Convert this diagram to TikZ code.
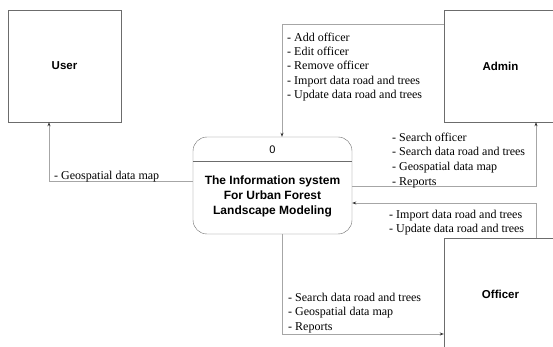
\documentclass[tikz,border=0pt]{standalone}
\usepackage{fontspec}
\setmainfont{Liberation Serif}
\setsansfont{Liberation Sans}
\usetikzlibrary{arrows.meta,calc}
\begin{document}
\begin{tikzpicture}[x=1pt, y=-1pt, every node/.style={font=\small},
  entity/.style={draw=gray!85!black, thin, minimum width=113pt, minimum height=112pt, font=\sffamily\bfseries\fontsize{11.5}{13}\selectfont},
  proc/.style={draw=gray!85!black, thin, rounded corners=14pt, minimum width=159pt, minimum height=97pt},
  flow/.style={draw=gray!70, line width=1pt, -{Stealth[length=4pt, width=3pt, color=black!80]}},
  lbl/.style={align=left, inner sep=0pt, font=\fontsize{12}{14.3}\selectfont}]
\useasboundingbox (0,0) rectangle (553,347);
\clip (0,0) rectangle (553,347);
% external entities
\node[entity] (user) at (64.5,66) {User};
\node[entity] (admin) at (500.5,66) {Admin};
\node[entity] (officer) at (500.5,294) {Officer};
% process 0
\node[proc] (proc) at (272.5,185.5) {};
\draw[draw=gray!85!black, thin] ($(proc.north west)+(0,24)$) -- ($(proc.north east)+(0,24)$);
\node[font=\sffamily\fontsize{11}{12}\selectfont] (pnum) at ($(proc.north)+(0,12.5)$) {0};
\node[align=center, font=\sffamily\bfseries\fontsize{12}{15}\selectfont] (ptitle) at ($(proc.north)+(0,60)$)
  {The Information system\\For Urban Forest\\Landscape Modeling};
% data flows
\draw[flow] ([yshift=3.5pt]proc.west) -| ([xshift=-15.5pt]user.south);
\draw[flow] ([yshift=41pt]admin.west) -| ([xshift=9.5pt]proc.north);
\draw[flow] ([yshift=-1.5pt]proc.east) -| ([xshift=35.5pt]admin.south);
\draw[flow] ([xshift=35.5pt]officer.north) |- ([yshift=-17.5pt]proc.east);
\draw[flow] ([xshift=9.5pt]proc.south) |- ([yshift=-40pt]officer.west);
% flow labels
\node[lbl, anchor=base west] (lgeo) at (54,179) {- Geospatial data map};
\node[lbl, anchor=north west] (ladmin) at (287,32.5) {- Add officer\\- Edit officer\\- Remove officer\\- Import data road and trees\\- Update data road and trees};
\node[lbl, anchor=north west, font=\fontsize{12}{14.8}\selectfont] (lreport) at (392,132.5) {- Search officer\\- Search data road and trees\\- Geospatial data map\\- Reports};
\node[lbl, anchor=north west] (limport) at (389,210) {- Import data road and trees\\- Update data road and trees};
\node[lbl, anchor=north west] (lsearch) at (288,293) {- Search data road and trees\\- Geospatial data map\\- Reports};
\end{tikzpicture}
\end{document}
